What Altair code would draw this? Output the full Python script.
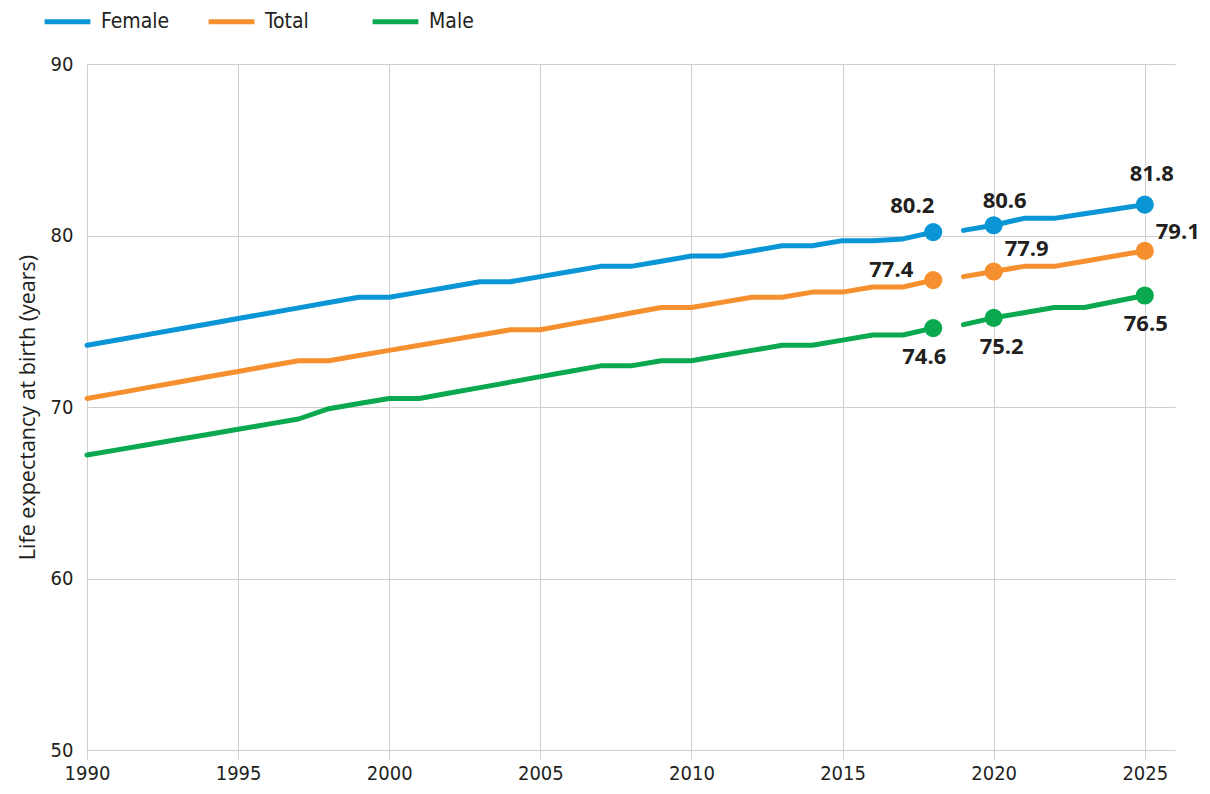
import altair as alt
import pandas as pd

# ---- data ----
series_names = ["Female", "Total", "Male"]
series_colors = ["#0a96d6", "#f68f2e", "#0aa94f"]

years_hist = list(range(1990, 2019))
years_proj = list(range(2019, 2026))

female_hist = [73.6, 73.91, 74.22, 74.53, 74.84, 75.16, 75.47, 75.78, 76.09, 76.4,
               76.4, 76.7, 77.0, 77.3, 77.3, 77.6, 77.9, 78.2, 78.2, 78.5,
               78.8, 78.8, 79.1, 79.4, 79.4, 79.7, 79.7, 79.8, 80.2]
total_hist = [70.5, 70.81, 71.13, 71.44, 71.76, 72.07, 72.39, 72.7, 72.7, 73.0,
              73.3, 73.6, 73.9, 74.2, 74.5, 74.5, 74.83, 75.15, 75.48, 75.8,
              75.8, 76.1, 76.4, 76.4, 76.7, 76.7, 77.0, 77.0, 77.4]
male_hist = [67.2, 67.5, 67.8, 68.1, 68.4, 68.7, 69.0, 69.3, 69.9, 70.2,
             70.5, 70.5, 70.82, 71.13, 71.45, 71.77, 72.08, 72.4, 72.4, 72.7,
             72.7, 73.0, 73.3, 73.6, 73.6, 73.9, 74.2, 74.2, 74.6]

female_proj = [80.3, 80.6, 81.0, 81.0, 81.27, 81.53, 81.8]
total_proj = [77.6, 77.9, 78.2, 78.2, 78.5, 78.8, 79.1]
male_proj = [74.8, 75.2, 75.5, 75.8, 75.8, 76.15, 76.5]

marked_years = [2018, 2020, 2025]
x_ticks = [1990, 1995, 2000, 2005, 2010, 2015, 2020, 2025]
y_ticks = [50, 60, 70, 80, 90]

# ---- build table ----
rows = []
for name, hist, proj in [("Female", female_hist, female_proj),
                         ("Total", total_hist, total_proj),
                         ("Male", male_hist, male_proj)]:
    for yr, v in zip(years_hist, hist):
        rows.append({"year": yr, "value": v, "series": name, "segment": "observed"})
    for yr, v in zip(years_proj, proj):
        rows.append({"year": yr, "value": v, "series": name, "segment": "projected"})
df = pd.DataFrame(rows)

# ---- styles ----
NARROW = "Liberation Sans Narrow, DejaVu Sans Condensed, Arial Narrow, sans-serif"
TEXT = "#231f20"
GRID = "#cfcfcf"

label_offsets = {
    ("Female", 2018): (-21, -26),
    ("Female", 2020): (11, -24),
    ("Female", 2025): (7, -31),
    ("Total", 2018): (-42, -10),
    ("Total", 2020): (33, -23),
    ("Total", 2025): (33, -19),
    ("Male", 2018): (-9, 29),
    ("Male", 2020): (8, 29),
    ("Male", 2025): (1, 28),
}

x_enc = alt.X(
    "year:Q",
    scale=alt.Scale(domain=[1990, 2026], nice=False, zero=False),
    axis=alt.Axis(values=x_ticks, format="d", title=None, grid=True,
                  gridColor=GRID, domain=False, ticks=True, tickSize=9,
                  tickColor=GRID, labelFontSize=20, labelFont=NARROW,
                  labelColor=TEXT, labelPadding=4, labelFlush=False),
)
y_enc = alt.Y(
    "value:Q",
    scale=alt.Scale(domain=[50, 90], nice=False, zero=False),
    axis=alt.Axis(values=y_ticks, title="Life expectancy at birth (years)",
                  grid=True, gridColor=GRID, domain=True, domainColor=GRID,
                  ticks=False, labelFontSize=20, labelFont=NARROW,
                  labelColor=TEXT, labelPadding=14,
                  titleFont="Open Sans", titleFontSize=21.5,
                  titleFontWeight="normal", titleColor=TEXT, titlePadding=11),
)
color_scale = alt.Scale(domain=series_names, range=series_colors)

base = alt.Chart(df)

lines = base.mark_line(strokeWidth=5, strokeCap="round", strokeJoin="round").encode(
    x=x_enc,
    y=y_enc,
    color=alt.Color(
        "series:N", scale=color_scale,
        legend=alt.Legend(title=None, orient="none", legendX=-45, legendY=-68,
                          direction="horizontal", columns=3, symbolType="stroke",
                          symbolStrokeWidth=5, symbolSize=2100,
                          labelFontSize=21, labelFont=NARROW, labelColor=TEXT,
                          labelOffset=8, columnPadding=28, gridAlign="all",
                          padding=0),
    ),
    detail="segment:N",
)

points = base.transform_filter(
    alt.FieldOneOfPredicate(field="year", oneOf=marked_years)
).mark_circle(size=330, opacity=1).encode(
    x="year:Q", y="value:Q",
    color=alt.Color("series:N", scale=color_scale, legend=None),
)

layers = [lines, points]
for (name, yr), (dx, dy) in label_offsets.items():
    layers.append(
        base.transform_filter(
            (alt.datum.series == name) & (alt.datum.year == yr)
        ).mark_text(dx=dx, dy=dy, fontSize=22, fontWeight="bold",
                    font="Open Sans", color=TEXT, baseline="middle",
                    align="center").encode(
            x="year:Q", y="value:Q",
            text=alt.Text("value:Q", format=".1f"),
        )
    )

chart = alt.layer(*layers).properties(
    width=1088, height=686,
    autosize=alt.AutoSizeParams(type="none"),
    padding={"left": 79, "top": 56, "right": 27, "bottom": 36},
).configure_view(stroke=None)

chart.save("out.html", embed_options={"renderer": "svg", "actions": False})
